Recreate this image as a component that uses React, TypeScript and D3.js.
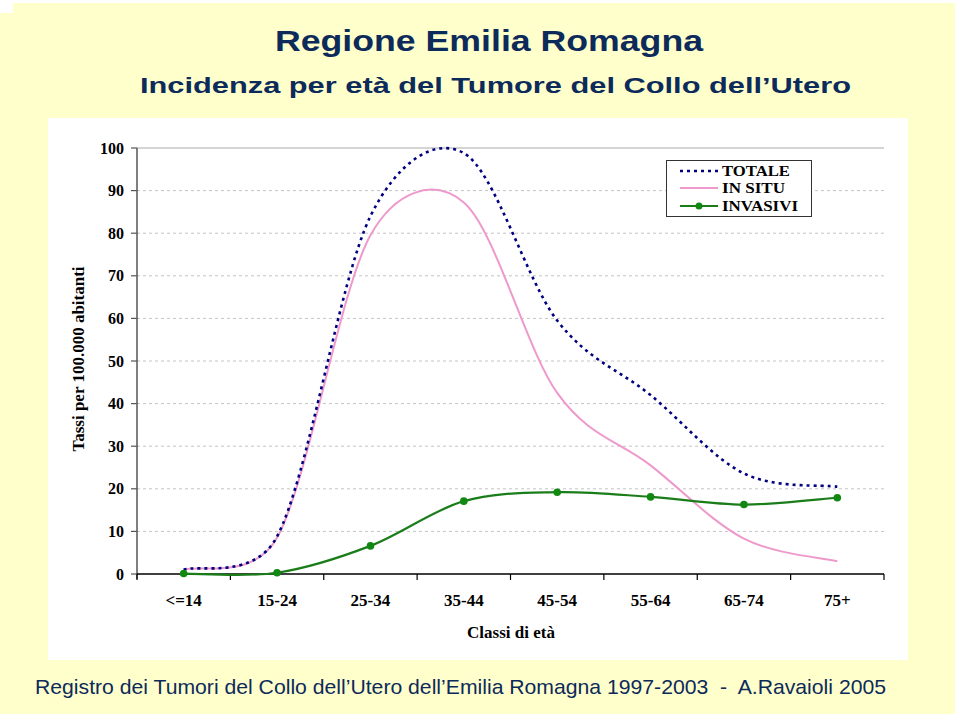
import React from "react";
import * as d3 from "d3";

const CATEGORIES = ["<=14", "15-24", "25-34", "35-44", "45-54", "55-64", "65-74", "75+"];
const TOTALE = [1.0, 8.8, 84, 98.8, 59.5, 42, 23.6, 20.5];
const IN_SITU = [1.0, 8.5, 79.5, 87.2, 42.5, 25.5, 8.3, 3.0];
const INVASIVI = [0.1, 0.3, 6.6, 17.1, 19.2, 18.1, 16.3, 17.9];
const Y_TICKS = [0, 10, 20, 30, 40, 50, 60, 70, 80, 90, 100];

const TITLE = "Regione Emilia Romagna";
const SUBTITLE = "Incidenza per età del Tumore del Collo dell’Utero";
const FOOTER = "Registro dei Tumori del Collo dell’Utero dell’Emilia Romagna 1997-2003  -  A.Ravaioli 2005";
const Y_TITLE = "Tassi per 100.000 abitanti";
const X_TITLE = "Classi di età";
const LEGEND = ["TOTALE", "IN SITU", "INVASIVI"];

const W = 960;
const H = 720;
const NAVY_TEXT = "#0c2a5a";
const SERIF = "'Liberation Serif', 'Times New Roman', serif";
const SANS = "'Liberation Sans', Arial, sans-serif";

// Spreadsheet-style smoothed line: Catmull-Rom tangents (1/6), with each
// control handle limited to half of its segment's length.
function smoothPath(pts: [number, number][]): string {
  const p = d3.path();
  const n = pts.length;
  if (!n) return "";
  p.moveTo(pts[0][0], pts[0][1]);
  const ctrl = (i: number, dir: 1 | -1, segLen: number): [number, number] => {
    const prev = pts[Math.max(0, i - 1)];
    const next = pts[Math.min(n - 1, i + 1)];
    let tx = (next[0] - prev[0]) / 6;
    let ty = (next[1] - prev[1]) / 6;
    const len = Math.hypot(tx, ty);
    const cap = segLen / 2;
    if (len > cap && len > 0) {
      tx *= cap / len;
      ty *= cap / len;
    }
    return [pts[i][0] + dir * tx, pts[i][1] + dir * ty];
  };
  for (let i = 0; i < n - 1; i++) {
    const a = pts[i];
    const b = pts[i + 1];
    const seg = Math.hypot(b[0] - a[0], b[1] - a[1]);
    const c1 = ctrl(i, 1, seg);
    const c2 = ctrl(i + 1, -1, seg);
    p.bezierCurveTo(c1[0], c1[1], c2[0], c2[1], b[0], b[1]);
  }
  return p.toString();
}

export default function App() {
  const x = d3.scaleBand<string>().domain(CATEGORIES).range([137, 884]).padding(0);
  const y = d3.scaleLinear().domain([0, 100]).range([574, 148]);
  const cx = (c: string) => (x(c) as number) + x.bandwidth() / 2;

  const line = (vals: number[]) =>
    smoothPath(vals.map((v, i) => [cx(CATEGORIES[i]), y(v)] as [number, number]));

  const boundaries = CATEGORIES.map((c) => x(c) as number).concat([884]);

  return (
    <svg
      width={W}
      height={H}
      style={{ position: "absolute", left: 0, top: 0, display: "block" }}
    >
      <rect x={0} y={0} width={W} height={H} fill="#ffffff" />
      <rect x={0} y={3} width={955} height={711} fill="#ffffcc" />
      <rect x={0} y={0} width={13} height={13} fill="#ffffff" />

      {/* titles */}
      <text
        x={489}
        y={51}
        textAnchor="middle"
        fontFamily={SANS}
        fontWeight="bold"
        fontSize={29}
        fill={NAVY_TEXT}
        textLength={428}
        lengthAdjust="spacingAndGlyphs"
      >
        {TITLE}
      </text>
      <text
        x={495.5}
        y={93}
        textAnchor="middle"
        fontFamily={SANS}
        fontWeight="bold"
        fontSize={22}
        fill={NAVY_TEXT}
        textLength={711}
        lengthAdjust="spacingAndGlyphs"
      >
        {SUBTITLE}
      </text>

      {/* plot box */}
      <rect x={48} y={118} width={860} height={542} fill="#ffffff" />

      {/* gridlines */}
      {Y_TICKS.filter((t) => t > 0).map((t) => (
        <line
          key={"g" + t}
          x1={137}
          x2={884}
          y1={y(t)}
          y2={y(t)}
          stroke={t === 100 ? "#d4d4d4" : "#c4c4c4"}
          strokeWidth={t === 100 ? 2 : 1}
          strokeDasharray={t === 100 ? undefined : "3,3"}
        />
      ))}

      {/* y axis */}
      <line x1={137} x2={137} y1={148} y2={579} stroke="#555" strokeWidth={1.5} />
      {Y_TICKS.map((t) => (
        <g key={"yt" + t}>
          <line x1={131} x2={137} y1={y(t)} y2={y(t)} stroke="#555" strokeWidth={1.2} />
          <text
            x={124}
            y={y(t)}
            dy="0.35em"
            textAnchor="end"
            fontFamily={SERIF}
            fontWeight="bold"
            fontSize={16}
            fill="#000"
          >
            {t}
          </text>
        </g>
      ))}
      <text
        transform={`translate(84,${359}) rotate(-90)`}
        textAnchor="middle"
        fontFamily={SERIF}
        fontWeight="bold"
        fontSize={17}
        fill="#000"
      >
        {Y_TITLE}
      </text>

      {/* x axis */}
      <line x1={137} x2={884} y1={574} y2={574} stroke="#000" strokeWidth={1.5} />
      {boundaries.map((b, i) => (
        <line key={"xt" + i} x1={b} x2={b} y1={574} y2={580} stroke="#000" strokeWidth={1.2} />
      ))}
      {CATEGORIES.map((c) => (
        <text
          key={"xl" + c}
          x={cx(c)}
          y={606}
          textAnchor="middle"
          fontFamily={SERIF}
          fontWeight="bold"
          fontSize={17}
          fill="#000"
        >
          {c}
        </text>
      ))}
      <text
        x={511}
        y={638}
        textAnchor="middle"
        fontFamily={SERIF}
        fontWeight="bold"
        fontSize={17}
        fill="#000"
      >
        {X_TITLE}
      </text>

      {/* series */}
      <path d={line(IN_SITU)} fill="none" stroke="#ee99cc" strokeWidth={2} />
      <path
        d={line(TOTALE)}
        fill="none"
        stroke="#000080"
        strokeWidth={2.6}
        strokeDasharray="3,4"
      />
      <path d={line(INVASIVI)} fill="none" stroke="#1a7d1a" strokeWidth={2.2} />
      {INVASIVI.map((v, i) => (
        <circle key={"m" + i} cx={cx(CATEGORIES[i])} cy={y(v)} r={3.8} fill="#118811" />
      ))}

      {/* legend */}
      <rect x={666.5} y={160.5} width={145} height={56} fill="#ffffff" stroke="#333" strokeWidth={1} />
      <line x1={680} x2={718} y1={171} y2={171} stroke="#000080" strokeWidth={2.6} strokeDasharray="3,4" />
      <line x1={680} x2={718} y1={188} y2={188} stroke="#ee99cc" strokeWidth={2} />
      <line x1={680} x2={718} y1={206} y2={206} stroke="#1a7d1a" strokeWidth={2.2} />
      <circle cx={699} cy={206} r={3.5} fill="#118811" />
      {LEGEND.map((l, i) => (
        <text
          key={"lg" + l}
          x={722}
          y={[176, 193, 211][i]}
          fontFamily={SERIF}
          fontWeight="bold"
          fontSize={15}
          fill="#000"
          textLength={[68, 63, 76][i]}
          lengthAdjust="spacingAndGlyphs"
        >
          {l}
        </text>
      ))}

      {/* footer */}
      <text
        x={35}
        y={694}
        fontFamily={SANS}
        fontSize={21}
        fill={NAVY_TEXT}
        textLength={851}
        lengthAdjust="spacingAndGlyphs"
        style={{ whiteSpace: "pre" }}
      >
        {FOOTER}
      </text>
    </svg>
  );
}
